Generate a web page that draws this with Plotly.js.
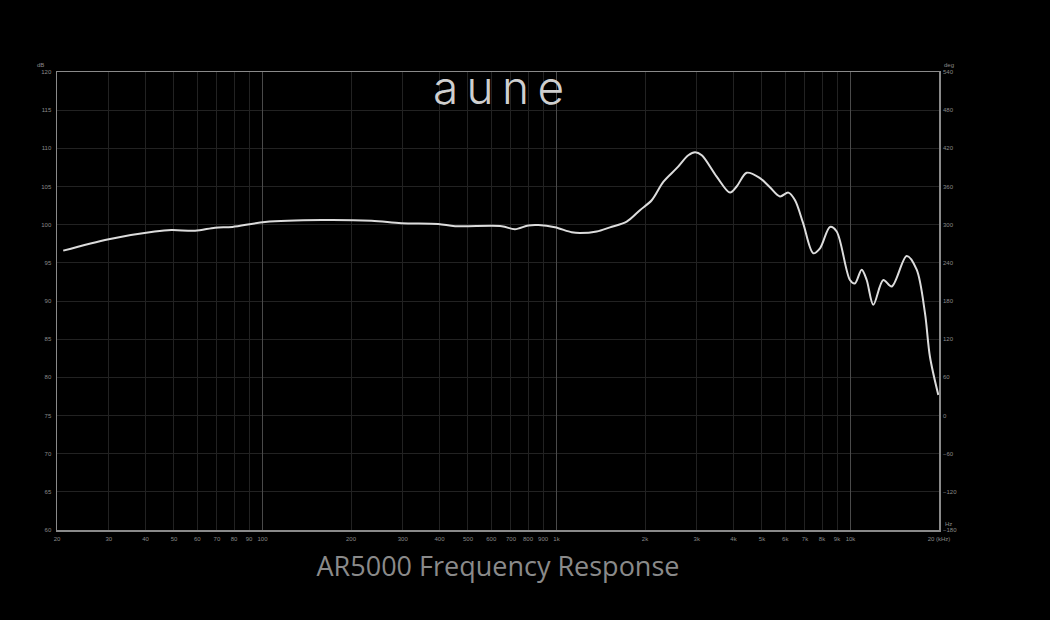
<!DOCTYPE html>
<html>
<head>
<meta charset="utf-8">
<script src="https://cdn.plot.ly/plotly-3.0.1.min.js"></script>
<style>html,body{margin:0;padding:0;background:#000;}#chart{width:1050px;height:620px;}</style>
</head>
<body>
<div id="chart"></div>
<script>
// Frequency (Hz) and SPL (dB)
const freqHz = [21, 30, 43, 49, 59, 69, 79, 102, 159, 235, 297, 396, 452, 651, 722, 802, 868, 988, 1126, 1202, 1370, 1520, 1733, 1922, 2108, 2308, 2564, 2808, 2960, 3120, 3506, 3892, 4100, 4436, 4920, 5320, 5756, 6144, 6476, 6900, 7470, 7875, 8516, 8974, 9956, 10350, 10916, 11352, 11956, 12928, 13808, 15532, 16794, 17920, 18632, 19890];
const splDb = [96.6, 98.1, 99.1, 99.3, 99.2, 99.6, 99.7, 100.35, 100.6, 100.5, 100.2, 100.1, 99.8, 99.8, 99.4, 99.9, 99.95, 99.65, 99.0, 98.9, 99.1, 99.65, 100.4, 101.9, 103.2, 105.6, 107.4, 109.1, 109.5, 109.1, 106.3, 104.2, 105.0, 106.8, 106.1, 104.9, 103.7, 104.2, 103.2, 100.2, 96.25, 96.9, 99.7, 99.1, 92.75, 92.3, 94.1, 92.75, 89.5, 92.75, 91.9, 95.9, 94.1, 88.4, 82.7, 77.7];

// Axis ticks
const xTickVals = [20, 30, 40, 50, 60, 70, 80, 90, 100, 200, 300, 400, 500, 600, 700, 800, 900, 1000, 2000, 3000, 4000, 5000, 6000, 7000, 8000, 9000, 10000, 20000];
const xTickText = ["20", "30", "40", "50", "60", "70", "80", "90", "100", "200", "300", "400", "500", "600", "700", "800", "900", "1k", "2k", "3k", "4k", "5k", "6k", "7k", "8k", "9k", "10k", "20 (kHz)"];
const xMajorVals = [100, 1000, 10000];
const dbTickVals = [60, 65, 70, 75, 80, 85, 90, 95, 100, 105, 110, 115, 120];
const degTickVals = [-180, -120, -60, 0, 60, 120, 180, 240, 300, 360, 420, 480, 540];

const tickFont = {family: 'Liberation Sans, Arial, sans-serif', size: 6, color: '#8a8a8a'};

const traces = [
  {
    x: freqHz, y: splDb, type: 'scatter', mode: 'lines',
    line: {color: '#dcdcdc', width: 2, shape: 'spline', smoothing: 0.9},
    hoverinfo: 'x+y', showlegend: false
  },
  {x: [], y: [], xaxis: 'x2', yaxis: 'y2', type: 'scatter', mode: 'lines', showlegend: false, hoverinfo: 'skip'}
];

const layout = {
  width: 1050, height: 620,
  paper_bgcolor: '#000', plot_bgcolor: '#000',
  margin: {l: 57, r: 111, t: 72, b: 90},
  showlegend: false,
  title: {
    text: 'AR5000 Frequency Response',
    font: {family: 'Open Sans, Noto Sans, sans-serif', size: 27, color: '#8a8a8a'},
    xref: 'paper', x: 0.5, xanchor: 'center',
    yref: 'container', y: 1 - 567 / 620, yanchor: 'middle'
  },
  xaxis: {
    type: 'log', range: [Math.log10(20), Math.log10(20000)],
    tickmode: 'array', tickvals: xTickVals, ticktext: xTickText,
    tickfont: tickFont, ticks: '', ticklabelstandoff: 2,
    showgrid: true, gridcolor: '#222222', gridwidth: 1,
    showline: true, linecolor: '#8a8a8a', linewidth: 1.5, mirror: true,
    zeroline: false, fixedrange: true
  },
  xaxis2: {
    type: 'log', range: [Math.log10(20), Math.log10(20000)],
    overlaying: 'x', anchor: 'y',
    tickmode: 'array', tickvals: xMajorVals, showticklabels: false, ticks: '',
    showgrid: true, gridcolor: '#4a4a4a', gridwidth: 1,
    showline: false, zeroline: false, fixedrange: true
  },
  yaxis: {
    range: [60, 120], tickmode: 'array', tickvals: dbTickVals,
    tickfont: tickFont, ticks: '', ticklabelstandoff: 3,
    showgrid: true, gridcolor: '#222222', gridwidth: 1,
    showline: true, linecolor: '#8a8a8a', linewidth: 1.5, mirror: true,
    zeroline: false, fixedrange: true
  },
  yaxis2: {
    range: [-180, 540], overlaying: 'y', side: 'right', anchor: 'x',
    tickmode: 'array', tickvals: degTickVals,
    tickfont: tickFont, ticks: '', ticklabelstandoff: 3,
    showgrid: false, showline: false, zeroline: false, fixedrange: true
  },
  annotations: [
    {text: 'a\u2009u\u2009n\u2009e', xref: 'paper', yref: 'paper', x: 0.5, y: 1 - 15 / 458,
     xanchor: 'center', yanchor: 'middle', showarrow: false,
     font: {family: 'Inter, DejaVu Sans, sans-serif', size: 46, weight: 300, color: '#cfcfcf'}},
    {text: 'dB', xref: 'paper', yref: 'paper', x: -0.012, y: 1.004, xanchor: 'right', yanchor: 'bottom',
     showarrow: false, font: tickFont},
    {text: 'deg', xref: 'paper', yref: 'paper', x: 1.003, y: 1.004, xanchor: 'left', yanchor: 'bottom',
     showarrow: false, font: tickFont},
    {text: 'Hz', xref: 'paper', yref: 'paper', x: 1.004, y: 0.002, xanchor: 'left', yanchor: 'bottom',
     showarrow: false, font: tickFont}
  ]
};

Plotly.newPlot('chart', traces, layout, {displayModeBar: false, staticPlot: true});
</script>
</body>
</html>
